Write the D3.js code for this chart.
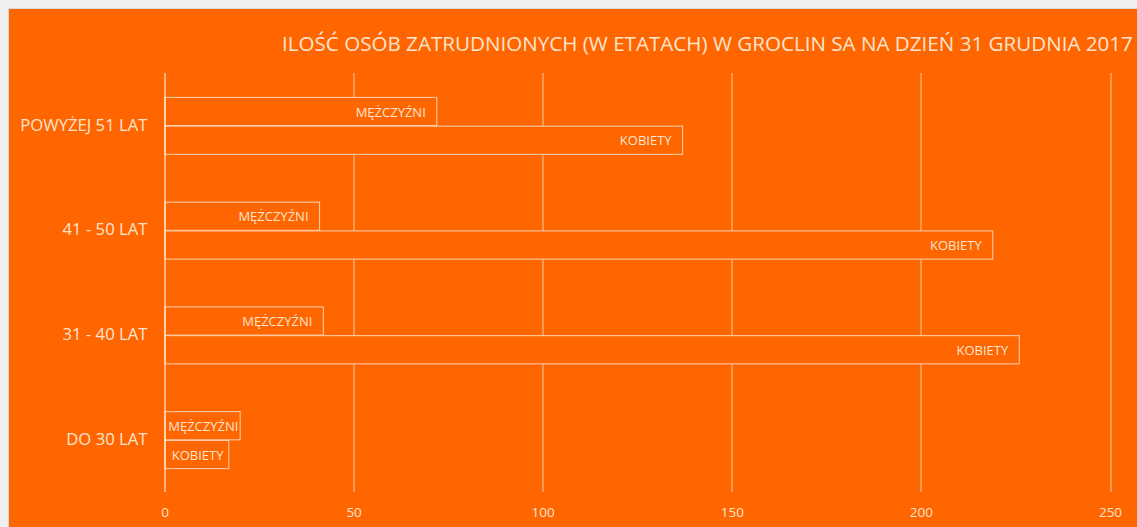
<!DOCTYPE html>
<html>
<head>
<meta charset="utf-8">
<script src="https://cdn.jsdelivr.net/npm/d3@7"></script>
<style>
  body { margin: 0; background: #f0f0f0; }
  svg { display: block; }
  text { font-family: "Open Sans", "Noto Sans", sans-serif; fill: #fde4d0; }
</style>
</head>
<body>
<svg id="chart"></svg>
<script>
// chart data
const categories = ["POWYŻEJ 51 LAT", "41 - 50 LAT", "31 - 40 LAT", "DO 30 LAT"];
const series = ["MĘŻCZYŹNI", "KOBIETY"];
const men = [72, 41, 42, 20];
const women = [137, 219, 226, 17];
const xTicks = [0, 50, 100, 150, 200, 250];
const title = "ILOŚĆ OSÓB ZATRUDNIONYCH (W ETATACH) W GROCLIN SA NA DZIEŃ 31 GRUDNIA 2017";

const W = 1137, H = 527;
const margin = {top: 73, right: 27, bottom: 35, left: 164.5};
const width = W - margin.left - margin.right;
const height = H - margin.top - margin.bottom;

const svg = d3.select("#chart").attr("width", W).attr("height", H);

// outer frame
svg.append("rect")
  .attr("x", 8.5).attr("y", 8.5).attr("width", W).attr("height", H)
  .attr("fill", "#ff6600").attr("stroke", "#d9d9d9").attr("stroke-width", 1);

svg.append("text")
  .attr("x", 282).attr("y", 51)
  .style("font-size", "20.6px")
  .text(title);

const g = svg.append("g")
  .attr("transform", "translate(" + margin.left + "," + margin.top + ")");

const x = d3.scaleLinear().domain([0, 250]).range([0, 945.5]);

const y = d3.scaleBand().domain(categories).range([0, height]).paddingInner(0).paddingOuter(0);
const ySub = d3.scaleBand().domain(series).range([0, y.bandwidth()]).paddingOuter(0.83).paddingInner(0.02);

// grid lines
g.selectAll(".grid")
  .data(xTicks.slice(1))
  .join("line")
  .attr("x1", d => Math.round(x(d)) + 0.5).attr("x2", d => Math.round(x(d)) + 0.5)
  .attr("y1", 0).attr("y2", height)
  .attr("stroke", "#f9c9a6").attr("stroke-width", 1);

// x axis labels
const xAxis = g.append("g")
  .attr("transform", "translate(0," + height + ")")
  .call(d3.axisBottom(x).tickValues(xTicks).tickSize(0).tickPadding(15));
xAxis.select(".domain").remove();
xAxis.selectAll("text").style("font-size", "13.5px").style("font-family", "\"Open Sans\", sans-serif").attr("fill", "#fde4d0");

// y axis labels
const yAxis = g.append("g")
  .call(d3.axisLeft(y).tickSize(0).tickPadding(17));
yAxis.select(".domain").remove();
yAxis.selectAll("text").style("font-size", "16.7px").style("font-family", "\"Open Sans\", sans-serif").attr("fill", "#fde4d0");

const rows = [];
categories.forEach((c, i) => {
  rows.push({cat: c, s: series[0], v: men[i]});
  rows.push({cat: c, s: series[1], v: women[i]});
});

const bars = g.selectAll(".bar")
  .data(rows)
  .join("g")
  .attr("transform", d => "translate(0," + (y(d.cat) + ySub(d.s)) + ")");

bars.append("rect")
  .attr("x", 0.5).attr("y", 0.5)
  .attr("width", d => x(d.v) - 0.5)
  .attr("height", ySub.bandwidth())
  .attr("fill", "#ff6600")
  .attr("stroke", "#fbd3b5").attr("stroke-width", 1);

bars.append("text")
  .attr("y", ySub.bandwidth() / 2 + 1)
  .attr("dy", "0.35em")
  .style("font-size", "13px")
  .text(d => d.s)
  .each(function(d) {
    const tw = this.getComputedTextLength();
    const w = x(d.v);
    const t = d3.select(this);
    if (w < tw + 20) {
      t.attr("x", w / 2 + 1).attr("text-anchor", "middle");
    } else {
      t.attr("x", w - 11).attr("text-anchor", "end");
    }
  });

// vertical axis line at 0
g.append("line")
  .attr("x1", 0.5).attr("x2", 0.5)
  .attr("y1", 0).attr("y2", height)
  .attr("stroke", "#ffffff").attr("stroke-width", 1);
</script>
</body>
</html>
